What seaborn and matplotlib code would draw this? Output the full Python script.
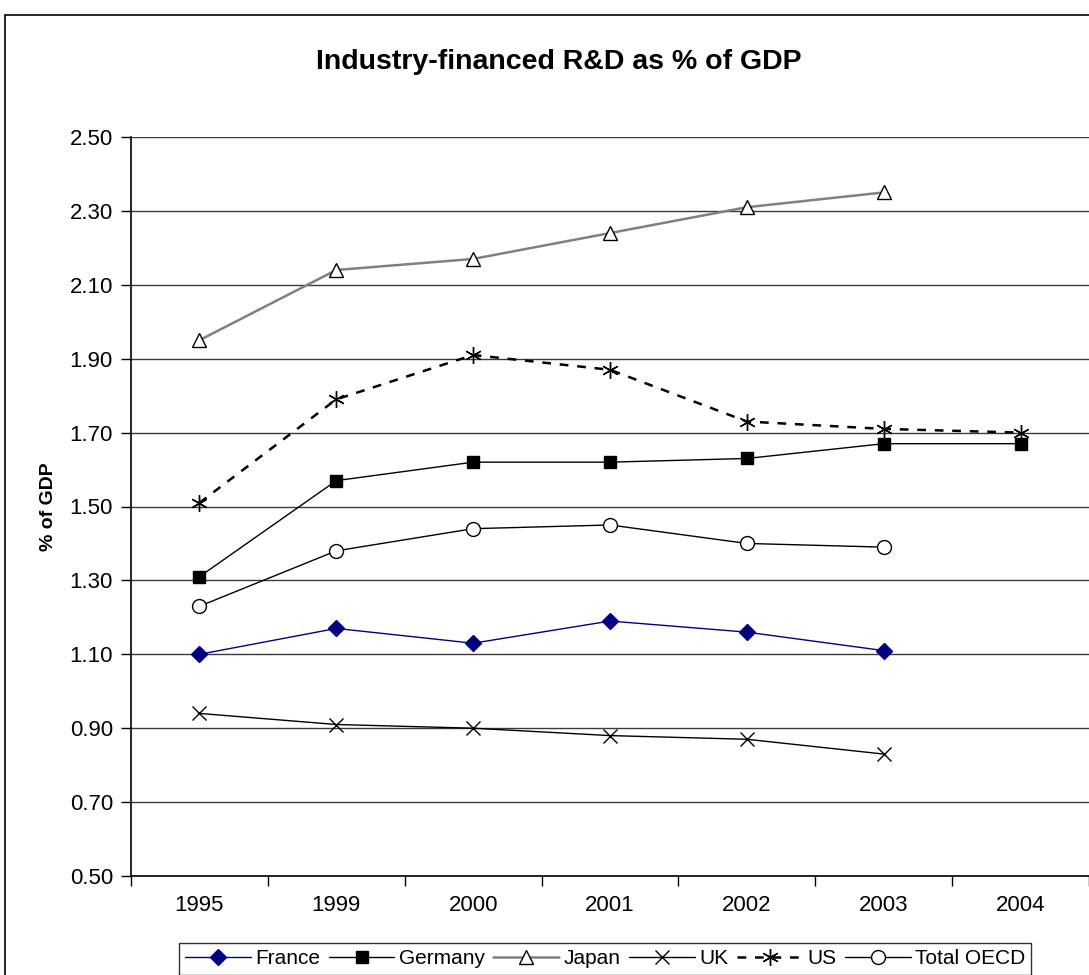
import matplotlib
matplotlib.use("Agg")
import matplotlib.pyplot as plt
import matplotlib.patches as mpatches
from matplotlib.ticker import FixedLocator, FormatStrFormatter
import numpy as np
import pandas as pd
import seaborn as sns

# Survey years (categorical axis)
years = ["1995", "1999", "2000", "2001", "2002", "2003", "2004"]

# Industry-financed R&D, % of GDP (None = not available)
france = [1.10, 1.17, 1.13, 1.19, 1.16, 1.11, None]
germany = [1.31, 1.57, 1.62, 1.62, 1.63, 1.67, 1.67]
japan = [1.95, 2.14, 2.17, 2.24, 2.31, 2.35, None]
uk = [0.94, 0.91, 0.90, 0.88, 0.87, 0.83, None]
us = [1.51, 1.79, 1.91, 1.87, 1.73, 1.71, 1.70]
total_oecd = [1.23, 1.38, 1.44, 1.45, 1.40, 1.39, None]

series = {
    "France": france,
    "Germany": germany,
    "Japan": japan,
    "UK": uk,
    "US": us,
    "Total OECD": total_oecd,
}

styles = {
    "France": dict(color="#000080", lw=1.0, marker="D", ms=8, mfc="#000080", mec="#000080", ls="-"),
    "Germany": dict(color="black", lw=1.0, marker="s", ms=9, mfc="black", mec="black", ls="-"),
    "Japan": dict(color="#808080", lw=1.8, marker="^", ms=10, mfc="white", mec="black", ls="-"),
    "UK": dict(color="black", lw=1.0, marker="x", ms=10, mfc="black", mec="black", ls="-"),
    "US": dict(color="black", lw=1.8, marker=(6, 2, 0), ms=12, mfc="black", mec="black", ls=(0, (3.5, 3.5))),
    "Total OECD": dict(color="black", lw=1.0, marker="o", ms=10, mfc="white", mec="black", ls="-"),
}

rows = []
for name, vals in series.items():
    for i, (yr, v) in enumerate(zip(years, vals)):
        if v is not None:
            rows.append({"series": name, "pos": i, "year": yr, "value": v})
df = pd.DataFrame(rows)

sns.set_theme(style="white")
plt.rcParams["font.family"] = ["Liberation Sans", "DejaVu Sans"]
plt.rcParams["text.color"] = "black"
plt.rcParams["axes.labelcolor"] = "black"
plt.rcParams["xtick.color"] = "black"
plt.rcParams["ytick.color"] = "black"

fig = plt.figure(figsize=(10.89, 9.75), dpi=100)
ax = fig.add_axes([131 / 1089, 1 - 876 / 975, 1 - 131 / 1089, (876 - 137) / 975])

# horizontal gridlines
for yv in np.arange(0.5, 2.51, 0.2):
    ax.axhline(yv, color="#3a3a3a", lw=1.0, zorder=0)

handles = []
for name in series:
    st = styles[name]
    sub = df[df["series"] == name]
    sns.lineplot(data=sub, x="pos", y="value", ax=ax, color=st["color"],
                 linewidth=st["lw"], linestyle=st["ls"], marker=st["marker"],
                 markersize=st["ms"], markerfacecolor=st["mfc"],
                 markeredgecolor=st["mec"], markeredgewidth=1.0,
                 estimator=None, sort=False, zorder=3)
    handles.append(plt.Line2D([], [], color=st["color"], lw=st["lw"], ls=st["ls"],
                              marker=st["marker"], ms=st["ms"], mfc=st["mfc"],
                              mec=st["mec"], mew=1.0, label=name))
if ax.get_legend() is not None:
    ax.get_legend().remove()

ax.set_xlim(-0.5, len(years) - 0.5)
ax.set_ylim(0.5, 2.5)
ax.set_xticks(range(len(years)))
ax.set_xticklabels(years)
ax.xaxis.set_minor_locator(FixedLocator(np.arange(-0.5, len(years), 1.0)))
ax.tick_params(axis="x", which="major", length=0, pad=14, labelsize=16, labelcolor="black")
ax.tick_params(axis="x", which="minor", length=7, width=1, color="black", direction="out", bottom=True)
ax.set_yticks(np.arange(0.5, 2.51, 0.2))
ax.yaxis.set_major_formatter(FormatStrFormatter("%.2f"))
ax.tick_params(axis="y", which="major", length=7, width=1, color="black", direction="out",
               left=True, labelsize=16, pad=6, labelcolor="black")

for s in ["top", "right"]:
    ax.spines[s].set_visible(False)
for s in ["left", "bottom"]:
    ax.spines[s].set_color("black")
    ax.spines[s].set_linewidth(1.2)

ax.set_xlabel("")
ax.set_ylabel("% of GDP", fontsize=14, fontweight="bold", labelpad=9, color="black")

fig.text(559 / 1089, 1 - 62 / 975, "Industry-financed R&D as % of GDP",
         ha="center", va="center", fontsize=20.5, fontweight="bold", color="black")

# chart frame
fig.patches.append(mpatches.Rectangle((5 / 1089, -0.1), 1.2, 1 - 15 / 975 + 0.1,
                                      transform=fig.transFigure, fill=False,
                                      edgecolor="black", lw=1.2, clip_on=False))

leg = fig.legend(handles=handles, loc="center", bbox_to_anchor=(605 / 1089, 1 - 959 / 975),
                 ncol=6, fontsize=15, frameon=True, fancybox=False, handlelength=3.15,
                 handletextpad=0.2, columnspacing=0.43, borderpad=0.3,
                 bbox_transform=fig.transFigure)
leg.get_frame().set_edgecolor("black")
leg.get_frame().set_linewidth(1.0)
for t in leg.get_texts():
    t.set_color("black")

fig.savefig("out.png", dpi=100)
